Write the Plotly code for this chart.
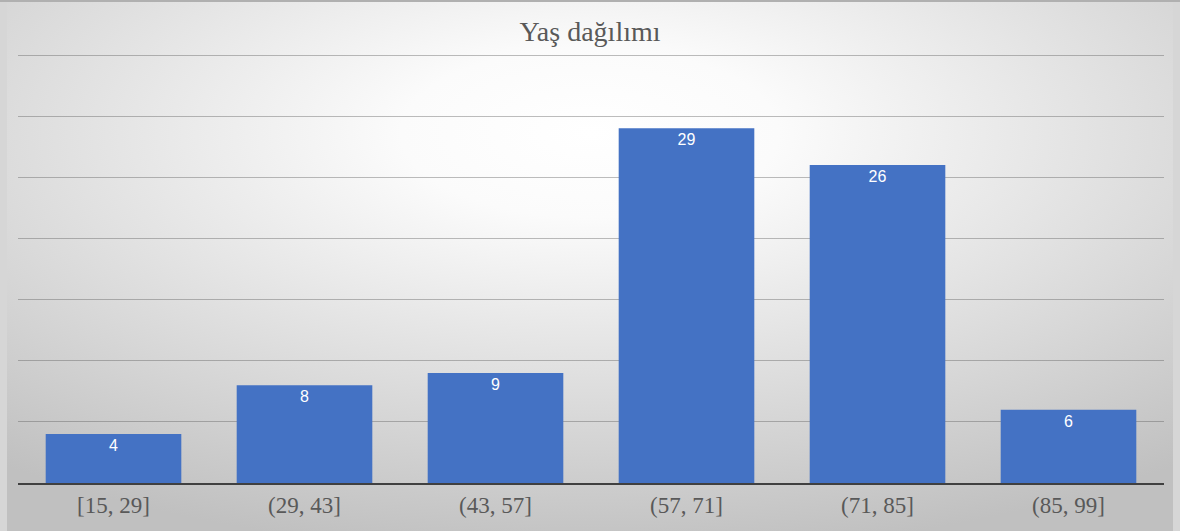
import base64
import plotly.graph_objects as go

categories = ["[15, 29]", "(29, 43]", "(43, 57]", "(57, 71]", "(71, 85]", "(85, 99]"]
counts = [4, 8, 9, 29, 26, 6]
title_text = "Yaş dağılımı"

W, H = 1180, 531
ML, MR, MT, MB = 18, 16, 51, 48
pw = W - ML - MR
ph = H - MT - MB
YMAX = 35 + 4 / 12.23

svg = f'''<svg xmlns="http://www.w3.org/2000/svg" width="{W}" height="{H}" viewBox="0 0 {W} {H}" preserveAspectRatio="none">
<defs><radialGradient id="g" cx="0.5" cy="0.25" r="0.8" gradientUnits="objectBoundingBox">
<stop offset="0" stop-color="#ffffff"/>
<stop offset="0.2" stop-color="#fbfbfb"/>
<stop offset="1" stop-color="#c0c0c0"/>
</radialGradient></defs>
<rect x="0" y="0" width="{W}" height="{H}" fill="url(#g)"/>
<rect x="0" y="0" width="7" height="{H}" fill="#d6d6d6"/>
<rect x="{W-7}" y="0" width="7" height="{H}" fill="#d6d6d6"/>
<rect x="0" y="0" width="{W}" height="2" fill="#b0b0b0"/>
</svg>'''
src = "data:image/svg+xml;base64," + base64.b64encode(svg.encode()).decode()

fig = go.Figure()
fig.add_trace(go.Bar(
    x=categories, y=counts,
    marker=dict(color="#4472c4", line=dict(width=0)),
    text=[str(c) for c in counts],
    textposition="inside", insidetextanchor="end",
    textfont=dict(family="Liberation Sans, Arial, sans-serif", size=16, color="white"),
    textangle=0,
    cliponaxis=False,
))

fig.update_layout(
    width=W, height=H,
    margin=dict(l=ML, r=MR, t=MT, b=MB),
    paper_bgcolor="#d0d0d0",
    plot_bgcolor="rgba(0,0,0,0)",
    bargap=0.29,
    showlegend=False,
    title=dict(text=title_text, x=0.5, xanchor="center", y=1 - 31 / H, yanchor="middle",
               font=dict(family="Liberation Serif, Times New Roman, serif", size=28, color="#595959")),
    xaxis=dict(showgrid=False, showline=True, linecolor="#404040", linewidth=2,
               ticks="", tickfont=dict(family="Liberation Serif, Times New Roman, serif", size=23, color="#595959"),
               zeroline=False),
    yaxis=dict(range=[0, YMAX], dtick=5, showgrid=True, gridcolor="rgba(90,90,90,0.4)", gridwidth=1,
               showticklabels=False, zeroline=False, showline=False, ticks=""),
    images=[dict(source=src, xref="paper", yref="paper", x=-ML / pw, y=1 + MT / ph,
                 sizex=W / pw, sizey=H / ph, xanchor="left", yanchor="top",
                 sizing="stretch", layer="below")],
)

fig.write_html("out.html", config={"displayModeBar": False},
               post_script="document.body.style.margin='0';document.body.style.padding='0';")
